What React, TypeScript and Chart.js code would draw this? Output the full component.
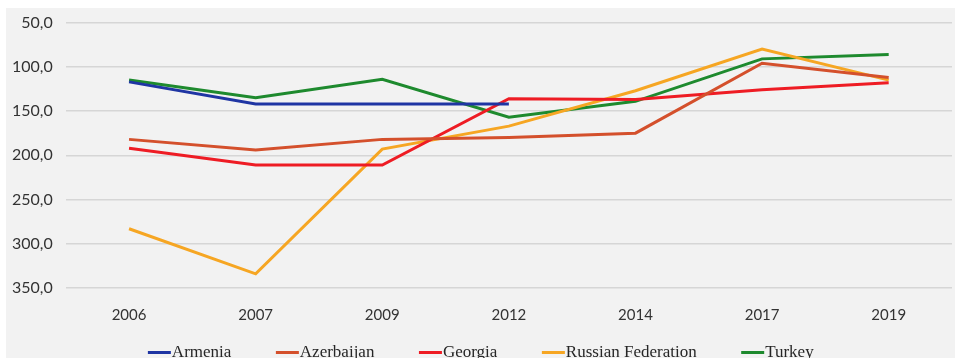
import { useEffect, useRef } from "react";
import { Chart, registerables } from "chart.js";

Chart.register(...registerables);

// Survey years on the category axis
const years = ["2006", "2007", "2009", "2012", "2014", "2017", "2019"];

// Ranking per country and year (lower is better, axis is reversed)
const armenia = [117, 142, 142, 142, null, null, null];
const azerbaijan = [182, 194, 182, 180, 175, 96, 112];
const georgia = [192, 211, 211, 136, 137, 126, 118];
const russia = [283, 334, 193, 167, 127, 80, 115];
const turkey = [115, 135, 114, 157, 139, 91, 86];

const countryNames = ["Armenia", "Azerbaijan", "Georgia", "Russian Federation", "Turkey"];
const countryColors = ["#1f35a3", "#d4502c", "#ee1c24", "#f6a623", "#1e8a2e"];

// Value axis ticks
const yTicks = [50, 100, 150, 200, 250, 300, 350];

// Legend slot width; the marker line is drawn at its right end, touching the label
const MARKER_SLOT = 50;
const MARKER_LINE = 23;
// Extra room on the left of the canvas (hidden), so the legend row sits centred
const LEFT_SHIFT = 24;

function legendLine(color: string): HTMLCanvasElement {
  // Chart.js centres the image on the slot and starts the text half a font size
  // after it, so the image is widened to reach the text.
  const c = document.createElement("canvas");
  c.width = MARKER_SLOT + 17;
  c.height = 3;
  const g = c.getContext("2d")!;
  g.fillStyle = color;
  g.fillRect(c.width - MARKER_LINE - 1, 0, MARKER_LINE, 3);
  return c;
}

export default function App() {
  const ref = useRef<HTMLCanvasElement | null>(null);

  useEffect(() => {
    if (!ref.current) return;
    const series = [armenia, azerbaijan, georgia, russia, turkey];
    const chart = new Chart(ref.current, {
      type: "line",
      data: {
        labels: years,
        datasets: series.map((values, i) => ({
          label: countryNames[i],
          data: values,
          borderColor: countryColors[i],
          backgroundColor: countryColors[i],
          borderWidth: 3,
          pointRadius: 0,
          pointHoverRadius: 0,
          pointStyle: legendLine(countryColors[i]),
          tension: 0,
          spanGaps: false,
        })),
      },
      options: {
        animation: false,
        responsive: true,
        maintainAspectRatio: false,
        layout: { padding: { left: 5, right: 3, top: 0, bottom: 3 } },
        plugins: {
          tooltip: { enabled: false },
          legend: {
            position: "bottom",
            labels: {
              usePointStyle: true,
              pointStyleWidth: MARKER_SLOT,
              padding: 10,
              color: "#262626",
              font: { family: "'Liberation Serif', serif", size: 17 },
            },
          },
        },
        scales: {
          x: {
            offset: true,
            grid: { display: false },
            border: { display: false },
            ticks: {
              color: "#333333",
              padding: 10,
              font: { family: "Lato, sans-serif", size: 15 },
            },
          },
          y: {
            reverse: true,
            min: yTicks[0],
            max: yTicks[yTicks.length - 1],
            afterBuildTicks: (axis) => {
              axis.ticks = yTicks.map((v) => ({ value: v }));
            },
            afterFit: (axis) => {
              axis.width += LEFT_SHIFT;
            },
            grid: { color: "#d6d6d6", lineWidth: 1.5, drawTicks: false },
            border: { display: false },
            ticks: {
              color: "#333333",
              padding: 13,
              font: { family: "Lato, sans-serif", size: 16 },
              callback: (v) => Number(v).toFixed(1).replace(".", ","),
            },
          },
        },
      },
    });
    return () => chart.destroy();
  }, []);

  return (
    <div
      style={{
        position: "fixed",
        left: 6,
        top: 8,
        width: 949,
        height: 350,
        overflow: "hidden",
        background: "#f2f2f2",
      }}
    >
      <div
        style={{
          position: "relative",
          marginTop: -8,
          marginLeft: -12 - LEFT_SHIFT,
          width: 961 + LEFT_SHIFT,
          height: 374,
        }}
      >
        <canvas ref={ref} />
      </div>
    </div>
  );
}
